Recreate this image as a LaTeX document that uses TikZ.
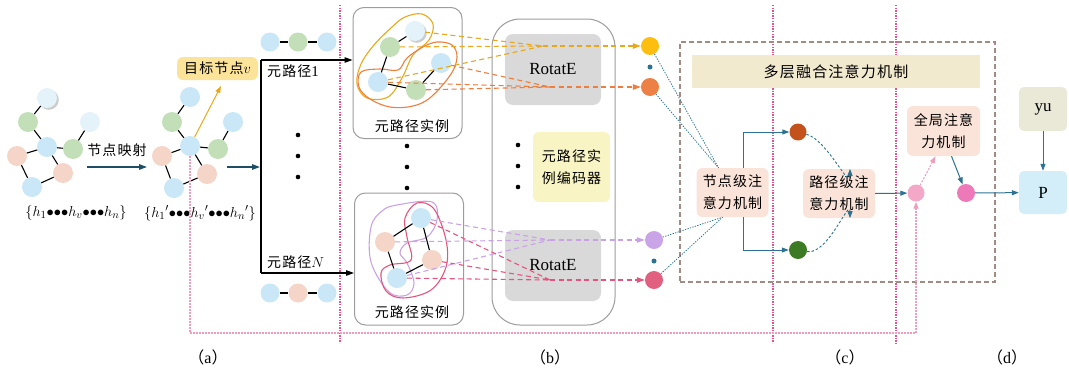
\documentclass[tikz,border=0pt]{standalone}
\usepackage{fontspec}
\setmainfont{Liberation Serif}
\newfontfamily\cjk[LetterSpace=8]{Noto Sans CJK SC}
\usetikzlibrary{arrows.meta,shadows,calc}
\definecolor{cBlue}{HTML}{C9E7F6}
\definecolor{cPale}{HTML}{E4F2FA}
\definecolor{cGreen}{HTML}{C2DFB7}
\definecolor{cPeach}{HTML}{F5D5C8}
\definecolor{cNavy}{HTML}{1E4E66}
\definecolor{cTeal}{HTML}{2C7393}
\definecolor{cGold}{HTML}{E8A81A}
\definecolor{cOrange}{HTML}{EE7E3E}
\definecolor{cLav}{HTML}{C9A2E6}
\definecolor{cRose}{HTML}{E2557E}
\definecolor{cSep}{HTML}{E8528C}
\definecolor{cLPink}{HTML}{EF9DBD}
\definecolor{cBoxGray}{HTML}{9C9C9C}
\definecolor{cRot}{HTML}{D9D9D9}
\definecolor{cYel}{HTML}{F8F4C4}
\definecolor{cTgt}{HTML}{FCE39A}
\definecolor{cAttn}{HTML}{FAE3D8}
\definecolor{cTitle}{HTML}{F2EACF}
\definecolor{cFuse}{HTML}{A08C82}
\definecolor{cYu}{HTML}{EAE8D6}
\definecolor{cP}{HTML}{D3EEF9}
\definecolor{cOY}{HTML}{FDBE10}
\definecolor{cOO}{HTML}{EC8045}
\definecolor{cOP}{HTML}{C9A5E8}
\definecolor{cOC}{HTML}{E2607F}
\definecolor{cBr}{HTML}{C4521C}
\definecolor{cGr}{HTML}{3C7B24}
\definecolor{cPk1}{HTML}{F4A8C8}
\definecolor{cPk2}{HTML}{EE79B9}
\begin{document}
\begin{tikzpicture}[x=1pt,y=-1pt,
  nd/.style={circle,inner sep=0,minimum size=20pt},
  ch/.style={circle,inner sep=0,minimum size=19pt},
  shd/.style={drop shadow={opacity=0.4,shadow xshift=1.8pt,shadow yshift=-1.8pt}},
  edge/.style={line width=1.1pt,black},
  zh/.style={font=\cjk\fontsize{14}{16}\selectfont,inner sep=0},
  tri/.style={-{Triangle[length=8pt,width=5.5pt]}},
  navyarr/.style={tri,line width=1.4pt,draw=cNavy},
  blkarr/.style={tri,line width=1.2pt,draw=black},
  tealarr/.style={-{Triangle[length=7pt,width=5pt]},line width=1pt,draw=cTeal},
  tealdash/.style={-{Triangle[length=7pt,width=5pt]},line width=0.9pt,draw=cTeal,dash pattern=on 2.5pt off 2pt},
  tealdot/.style={line width=0.8pt,draw=cTeal,dash pattern=on 1.3pt off 1.3pt},
  dl/.style={line width=1.1pt,dash pattern=on 5pt off 3.5pt},
  dla/.style={dl,-{Triangle[length=8pt,width=5.5pt]}},
  sep/.style={line width=1.3pt,draw=cSep,dash pattern=on 1.3pt off 1.3pt},
  dot/.style={circle,fill=black,inner sep=0,minimum size=4.6pt},
  tdot/.style={circle,fill=cTeal,inner sep=0,minimum size=5pt},
  inst/.style={draw=cBoxGray,line width=1pt,rounded corners=11pt,minimum width=109pt,minimum height=131pt,inner sep=0},
  rot/.style={fill=cRot,rounded corners=8pt,minimum width=96pt,minimum height=71pt,inner sep=0,font=\fontsize{17}{20}\selectfont},
  attn/.style={fill=cAttn,rounded corners=6pt,minimum width=72pt,minimum height=49pt,inner sep=0,align=center,font=\cjk\fontsize{14}{22}\selectfont},
  outc/.style={circle,inner sep=0,minimum size=18pt},
  sq/.style={rounded corners=5pt,minimum width=48pt,minimum height=44pt,inner sep=0,font=\fontsize{17}{20}\selectfont},
  lab/.style={inner sep=0,font=\fontsize{16}{18}\selectfont}
]
\useasboundingbox (0,0) rectangle (1069,370);

% separators
\draw[sep] (340,5) -- (340,343);
\draw[sep] (773,5) -- (773,343);
\draw[sep] (896,5) -- (896,345);

% ---------------- (a) graph 1
\node[nd,fill=cPale,shd] (g1a) at (47,98) {};
\node[nd,fill=cGreen] (g1b) at (28,122) {};
\node[nd,fill=cBlue] (g1c) at (47,147) {};
\node[nd,fill=cPeach] (g1d) at (17,156) {};
\node[nd,fill=cGreen] (g1e) at (73,149) {};
\node[nd,fill=cPale] (g1f) at (90,122) {};
\node[nd,fill=cPeach] (g1g) at (63,173) {};
\node[nd,fill=cBlue] (g1h) at (32,187) {};
\draw[edge] (g1a)--(g1b) (g1b)--(g1c) (g1c)--(g1d) (g1c)--(g1e) (g1e)--(g1f) (g1c)--(g1g) (g1d)--(g1h) (g1h)--(g1g);
\node[zh] (map) at (117,150) {节点映射};
\coordinate (a1s) at (87,167); \coordinate (a1e) at (147,167);
\draw[navyarr] (a1s) -- (a1e);
\node[lab,font=\fontsize{15}{17}\selectfont] (set1) at (76,213) {$\{h_1{\bullet}{\bullet}{\bullet}h_v{\bullet}{\bullet}{\bullet}h_n\}$};

% graph 2
\node[nd,fill=cBlue] (g2a) at (190,97) {};
\node[nd,fill=cGreen] (g2b) at (172,122) {};
\node[nd,fill=cBlue] (g2c) at (190,146) {};
\node[nd,fill=cPeach] (g2d) at (162,156) {};
\node[nd,fill=cGreen] (g2e) at (218,149) {};
\node[nd,fill=cBlue] (g2f) at (233,122) {};
\node[nd,fill=cPeach] (g2g) at (207,174) {};
\node[nd,fill=cBlue] (g2h) at (174,188) {};
\draw[edge] (g2a)--(g2b) (g2b)--(g2c) (g2c)--(g2d) (g2c)--(g2e) (g2e)--(g2f) (g2c)--(g2g) (g2d)--(g2h) (g2h)--(g2g);
\node[lab,font=\fontsize{15}{17}\selectfont] (set2) at (200,213) {$\{{h_1}'{\bullet}{\bullet}{\bullet}{h_v}'{\bullet}{\bullet}{\bullet}{h_n}'\}$};
\node[fill=cTgt,rounded corners=6pt,minimum width=81pt,minimum height=23pt,inner sep=0] (tgt) at (217.5,68.5) {\cjk\fontsize{14}{16}\selectfont 目标节点\fontsize{15}{16}\selectfont$v$};
\coordinate (tgtp) at (221,86);
\draw[-{Triangle[length=7pt,width=5pt]},line width=1pt,cGold] (g2c) -- (tgtp);
\coordinate (a2s) at (227,167); \coordinate (a2e) at (260,167);
\draw[navyarr] (a2s) -- (a2e);

% meta-path branches
\coordinate (jt) at (261,60); \coordinate (jb) at (261,273);
\node[inst] (inst1) at (407.5,73) {};
\node[inst,minimum height=132pt] (inst2) at (409,259) {};
\draw[line width=1.2pt] (jt) -- (jb);
\draw[blkarr] (jt) -- (inst1.west |- jt);
\draw[blkarr] (jb) -- (inst2.west |- jb);
\node[zh,anchor=west] (mp1) at (267,71) {元路径\rmfamily\fontsize{15}{16}\selectfont 1};
\node[zh,anchor=west] (mpn) at (267,262) {元路径\fontsize{15}{16}\selectfont$N$};
\node[ch,fill=cBlue] (mt1) at (270,42) {};
\node[ch,fill=cGreen] (mt2) at (298,42) {};
\node[ch,fill=cBlue] (mt3) at (327,42) {};
\draw[edge] (mt1)--(mt2) (mt2)--(mt3);
\node[ch,fill=cBlue] (mb1) at (270,293) {};
\node[ch,fill=cPeach] (mb2) at (298,293) {};
\node[ch,fill=cBlue] (mb3) at (327,293) {};
\draw[edge] (mb1)--(mb2) (mb2)--(mb3);
\node[dot] (d1) at (298,135) {}; \node[dot] (d2) at (298,156) {}; \node[dot] (d3) at (298,177) {};
\node[dot] (d4) at (407,146) {}; \node[dot] (d5) at (407,167) {}; \node[dot] (d6) at (407,188) {};

% instance 1
\node[zh] (it1) at (412,126) {元路径实例};
\draw[cGold,line width=1.1pt] plot[smooth cycle,tension=0.6] coordinates {(405,17) (422,14) (433,24) (429,40) (413,55) (402,78) (388,97) (367,98) (357,84) (361,64) (374,45) (392,27)};
\draw[cOrange,line width=1.1pt] plot[smooth cycle,tension=0.6] coordinates {(437,42) (452,45) (457,57) (451,74) (431,97) (413,106) (390,107) (370,99) (359,87) (361,72) (380,69) (398,70) (407,58) (423,47)};
\node[nd,fill=cPale,shd] (i1a) at (415,31) {};
\node[nd,fill=cGreen] (i1b) at (390,47) {};
\node[nd,fill=cBlue] (i1c) at (441,63) {};
\node[nd,fill=cBlue] (i1d) at (378,82) {};
\node[nd,fill=cGreen] (i1e) at (416,90) {};
\draw[edge] (i1a)--(i1b) (i1b)--(i1d) (i1d)--(i1e) (i1e)--(i1c);

% instance 2
\node[zh] (it2) at (412,312) {元路径实例};
\draw[cLav,line width=1.1pt] plot[smooth cycle,tension=0.6] coordinates {(397,205) (432,202) (437,220) (427,237) (407,243) (400,253) (407,263) (414,283) (407,295) (389,292) (371,262) (371,227) (382,211)};
\draw[cRose,line width=1.1pt] plot[smooth cycle,tension=0.6] coordinates {(417,203) (434,209) (446,240) (446,267) (431,290) (403,298) (386,291) (381,273) (390,265) (411,260) (407,237) (405,218)};
\node[nd,fill=cBlue] (i2a) at (421,218) {};
\node[nd,fill=cPeach] (i2b) at (385,242) {};
\node[nd,fill=cPeach] (i2c) at (432,260) {};
\node[nd,fill=cBlue] (i2d) at (397,278) {};
\draw[edge] (i2a)--(i2b) (i2a)--(i2c) (i2b)--(i2d) (i2d)--(i2c);

% ---------------- (b) encoder
\node[draw=cBoxGray,line width=1pt,rounded corners=28pt,minimum width=123pt,minimum height=306pt,inner sep=0] (enc) at (553.5,172) {};
\node[rot] (re1) at (553,69.5) {RotatE};
\node[rot] (re2) at (553,265.5) {RotatE};
\node[fill=cYel,rounded corners=6pt,minimum width=77pt,minimum height=70pt,inner sep=0,align=center,font=\cjk\fontsize{14}{22}\selectfont] (ye) at (571.5,167) {元路径实\\例编码器};
\node[dot] (d7) at (518,145) {}; \node[dot] (d8) at (518,166) {}; \node[dot] (d9) at (518,187) {};

\node[outc,fill=cOY] (oy) at (650,46) {};
\node[outc,fill=cOO] (oo) at (650,87) {};
\node[outc,fill=cOP] (op) at (654,240) {};
\node[outc,fill=cOC] (oc) at (654,280) {};
\node[tdot] (td1) at (650,67) {};
\node[tdot] (td2) at (654,261) {};

\coordinate (cgy) at (543,46);
\coordinate (cgo) at (550,87);
\coordinate (cgp) at (550,240);
\coordinate (cgc) at (550,280);
\draw[dl,cGold] (i1a) -- (cgy) (i1b) -- (cgy) (i1d) -- (cgy);
\draw[dla,cGold] (cgy) -- (oy);
\draw[dl,cOrange] (i1c) -- (cgo) (i1d) -- (cgo) (i1e) -- (cgo);
\draw[dla,cOrange] (cgo) -- (oo);
\draw[dl,cLav] (i2a) -- (cgp) (i2b) -- (cgp) (i2d) -- (cgp);
\draw[dla,cLav] (cgp) -- (op);
\draw[dl,cRose] (i2a) -- (cgc) (i2c) -- (cgc) (i2d) -- (cgc);
\draw[dla,cRose] (cgc) -- (oc);

% ---------------- (c) fusion
\node[draw=cFuse,line width=1.1pt,dash pattern=on 5pt off 3pt,minimum width=315pt,minimum height=240pt,inner sep=0] (fuse) at (837.5,162) {};
\node[fill=cTitle,minimum width=288pt,minimum height=33pt,inner sep=0,font=\cjk\fontsize{15}{16}\selectfont] (title) at (836,71.5) {多层融合注意力机制};
\node[attn] (nattn) at (732.5,192.5) {节点级注\\意力机制};
\node[attn] (pattn) at (839,193.5) {路径级注\\意力机制};
\node[attn,minimum width=73pt,minimum height=50pt] (gattn) at (943.5,131) {全局注意\\力机制};
\node[circle,inner sep=0,minimum size=17pt,fill=cBr] (bc) at (798,132) {};
\node[circle,inner sep=0,minimum size=18pt,fill=cGr] (gc) at (798,250) {};
\node[circle,inner sep=0,minimum size=17pt,fill=cPk1] (pc1) at (916,193) {};
\node[circle,inner sep=0,minimum size=18pt,fill=cPk2] (pc2) at (966,193) {};

\draw[tealdot] (oy) -- ([xshift=-14pt]nattn.north);
\draw[tealdot] (oo) -- ([xshift=-14pt]nattn.north);
\draw[tealdot] (op) -- ([xshift=-10pt]nattn.south);
\draw[tealdot] (oc) -- ([xshift=-10pt]nattn.south);

\draw[tealarr] ([xshift=10.5pt]nattn.north) |- (bc);
\draw[tealarr] ([xshift=10.5pt]nattn.south) |- (gc);
\draw[tealdash] (bc) to[out=-15,in=-90] ([xshift=11pt]pattn.north);
\draw[tealdash] (gc) to[out=-10,in=90] ([xshift=11pt]pattn.south);
\draw[tealarr] (pattn.east) -- (pc1);
\draw[-{Triangle[length=7pt,width=5pt]},line width=1.1pt,cLPink,dash pattern=on 2pt off 1.5pt] (pc1) -- ([xshift=-8pt]gattn.south);
\draw[tealarr] ([xshift=8pt]gattn.south) -- (pc2);

% ---------------- (d)
\node[sq,fill=cYu] (yu) at (1043,109) {yu};
\node[sq,fill=cP,minimum height=43pt] (P) at (1043,192.5) {P};
\draw[tealarr] (pc2) -- (P);
\draw[tealarr] (yu) -- (P);

% light pink feedback path
\coordinate (lpc) at (190,333);
\draw[-{Triangle[length=7pt,width=5pt]},line width=1.4pt,cLPink,dash pattern=on 1.4pt off 1.6pt] (g2c.south) -- (lpc) -| (pc1);

% labels
\node[lab] (la) at (208,357) {{\cjk （}a{\cjk ）}};
\node[lab] (lb) at (550,357) {{\cjk （}b{\cjk ）}};
\node[lab] (lc) at (845,357) {{\cjk （}c{\cjk ）}};
\node[lab] (ld) at (1007,357) {{\cjk （}d{\cjk ）}};
\end{tikzpicture}
\end{document}
